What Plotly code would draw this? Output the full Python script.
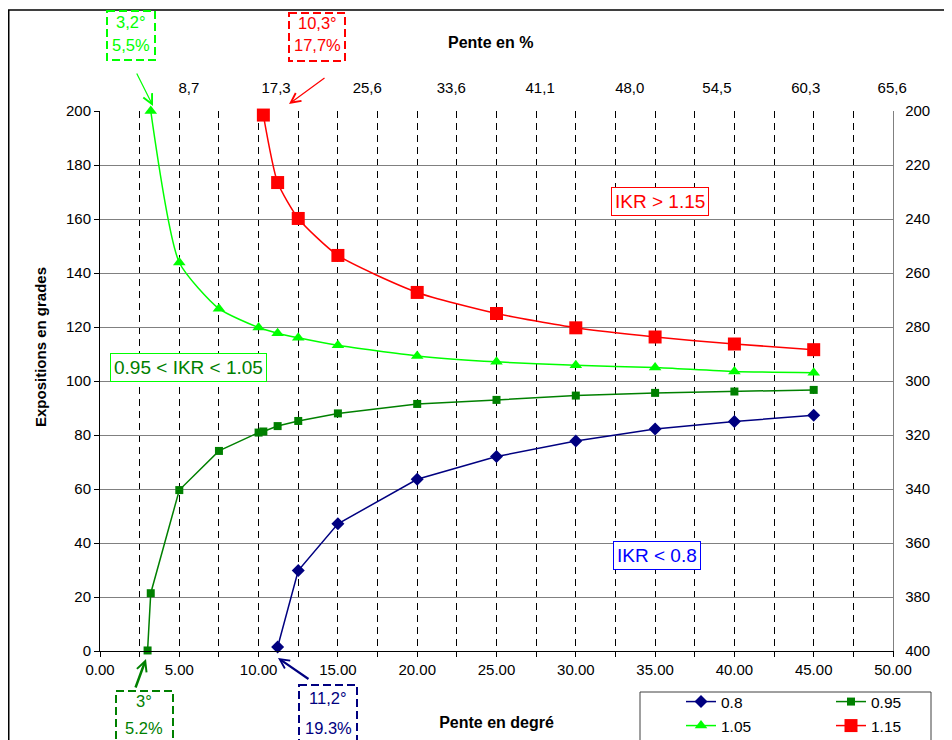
import plotly.graph_objects as go

# ---------------- data ----------------
x_08 = [11.2, 12.5, 15, 20, 25, 30, 35, 40, 45]
y_08 = [1.5, 29.8, 47.1, 63.6, 72.0, 77.8, 82.2, 85.0, 87.3]

x_095 = [3, 3.2, 5, 7.5, 10, 10.3, 11.2, 12.5, 15, 20, 25, 30, 35, 40, 45]
y_095 = [0.2, 21.4, 59.6, 74.1, 80.9, 81.3, 83.3, 85.2, 88.0, 91.5, 93.0, 94.6, 95.6, 96.1, 96.7]

x_105 = [3.2, 5, 7.5, 10, 11.2, 12.5, 15, 20, 25, 30, 35, 40, 45]
y_105 = [200, 143.9, 126.8, 119.8, 117.7, 116.0, 113.2, 109.3, 107.1, 105.8, 105.0, 103.5, 103.1]

x_115 = [10.3, 11.2, 12.5, 15, 20, 25, 30, 35, 40, 45]
y_115 = [198.5, 173.5, 160.2, 146.5, 132.8, 125.0, 119.7, 116.3, 113.7, 111.6]

series_names = ["0.8", "0.95", "1.05", "1.15"]

top_tick_labels = ["8,7", "17,3", "25,6", "33,6", "41,1", "48,0", "54,5", "60,3", "65,6"]
top_tick_pos = [5.6, 11.1, 16.85, 22.15, 27.75, 33.4, 38.9, 44.5, 49.95]

right_tick_vals = [200, 220, 240, 260, 280, 300, 320, 340, 360, 380, 400]

# ---------------- helpers (screen pixel -> paper) ----------------
OFF = 8                     # page body margin
W, H = 952, 740
PLOT_L, PLOT_R, PLOT_T, PLOT_B = 100, 893, 111, 651   # plot area on screen
L = PLOT_L - OFF
T = PLOT_T - OFF
R = W - (PLOT_R - OFF)
B = H - (PLOT_B - OFF)
PW, PH = W - L - R, H - T - B


def PX(x):
    return (x - OFF - L) / PW


def PY(y):
    return (H - B - (y - OFF)) / PH


FONT = "Liberation Sans, Arial, sans-serif"
NAVY, GREEN, LIME, RED = "#000080", "#008000", "#00FF00", "#FF0000"

fig = go.Figure()

fig.add_trace(go.Scatter(x=x_08, y=y_08, name=series_names[0], mode="lines+markers",
                         line=dict(color=NAVY, width=1.5),
                         marker=dict(symbol="diamond", size=10, color=NAVY),
                         legend="legend", cliponaxis=False))
fig.add_trace(go.Scatter(x=x_095, y=y_095, name=series_names[1], mode="lines+markers",
                         line=dict(color=GREEN, width=1.5),
                         marker=dict(symbol="square", size=8, color=GREEN),
                         legend="legend", cliponaxis=False))
fig.add_trace(go.Scatter(x=x_105, y=y_105, name=series_names[2], mode="lines+markers",
                         line=dict(color=LIME, width=1.5, shape="spline", smoothing=0.6),
                         marker=dict(symbol="triangle-up", size=11, color=LIME),
                         legend="legend2", cliponaxis=False))
fig.add_trace(go.Scatter(x=x_115, y=y_115, name=series_names[3], mode="lines+markers",
                         line=dict(color=RED, width=1.5, shape="spline", smoothing=0.6),
                         marker=dict(symbol="square", size=13, color=RED),
                         legend="legend2", cliponaxis=False))
# invisible trace to activate secondary axes
fig.add_trace(go.Scatter(x=[25], y=[300], xaxis="x2", yaxis="y2", mode="markers",
                         marker=dict(opacity=0), showlegend=False, hoverinfo="skip"))

grid_dash = "7px,5px"
fig.update_layout(
    width=W, height=H,
    margin=dict(l=L, r=R, t=T, b=B, autoexpand=False),
    plot_bgcolor="white", paper_bgcolor="white",
    font=dict(family=FONT, size=15, color="black"),
    xaxis=dict(range=[0, 50], tick0=0, dtick=5, tickformat=".2f",
               ticks="outside", ticklen=5, tickcolor="black",
               showline=True, linecolor="black", linewidth=1,
               showgrid=True, gridcolor="black", griddash=grid_dash, gridwidth=1,
               zeroline=False, automargin=False,
               minor=dict(dtick=2.5, tick0=0, ticks="outside", ticklen=5, tickcolor="black",
                          showgrid=True, gridcolor="black", griddash=grid_dash, gridwidth=1),
               title=dict(text="<b>Pente en degré</b>", standoff=39,
                          font=dict(size=16))),
    yaxis=dict(range=[0, 200], dtick=20, ticks="outside", ticklen=5, tickcolor="black",
               showline=True, linecolor="black", linewidth=1, automargin=False,
               showgrid=True, gridcolor="#808080", gridwidth=1.3, zeroline=False),
    xaxis2=dict(range=[0, 50], overlaying="x", side="top", anchor="y",
                tickvals=top_tick_pos, ticktext=top_tick_labels, automargin=False,
                ticks="", showline=False, showgrid=False, zeroline=False,
                ticklabelstandoff=14),
    yaxis2=dict(range=[400, 200], overlaying="y", side="right", anchor="x",
                tickvals=right_tick_vals, ticks="", showgrid=False, zeroline=False,
                showline=True, linecolor="#808080", linewidth=1.3, automargin=False,
                ticklabelstandoff=8),
    legend=dict(orientation="h", x=PX(681), y=PY(685), xanchor="left", yanchor="top",
                entrywidth=105, entrywidthmode="pixels", bgcolor="rgba(0,0,0,0)",
                font=dict(size=15.5), borderwidth=0),
    legend2=dict(orientation="h", x=PX(681), y=PY(709), xanchor="left", yanchor="top",
                 entrywidth=105, entrywidthmode="pixels", bgcolor="rgba(0,0,0,0)",
                 font=dict(size=15.5), borderwidth=0),
    showlegend=True,
)

shapes = []
# outer chart border (figure edge)
shapes.append(dict(type="rect", xref="paper", yref="paper",
                   x0=PX(OFF + 0.75), x1=PX(1000), y0=PY(OFF + 2), y1=PY(800),
                   line=dict(color="black", width=1.5), layer="above"))
# legend frame
shapes.append(dict(type="rect", xref="paper", yref="paper",
                   x0=PX(640), x1=PX(931), y0=PY(692), y1=PY(760),
                   line=dict(color="#404040", width=1), layer="below"))
# dashed callout boxes
box_dash = "8px,4px"
for (x0, x1, y0, y1, c) in [(107, 155, 11, 60, LIME), (289, 345, 13, 61, RED),
                            (116, 173, 691, 760, GREEN), (299, 357, 685, 760, NAVY)]:
    shapes.append(dict(type="rect", xref="paper", yref="paper",
                       x0=PX(x0), x1=PX(x1), y0=PY(y0), y1=PY(y1),
                       line=dict(color=c, width=2, dash=box_dash), layer="above"))
fig.update_layout(shapes=shapes)

ann = []


def txt(x, y, s, color, size=16.5, **kw):
    d = dict(x=PX(x), y=PY(y), xref="paper", yref="paper", text=s, showarrow=False,
             font=dict(family=FONT, size=size, color=color), xanchor="center", yanchor="middle")
    d.update(kw)
    ann.append(d)


def arrow(tail, tip, color, width, size):
    ann.append(dict(x=PX(tip[0]), y=PY(tip[1]), xref="paper", yref="paper",
                    ax=tail[0] - tip[0], ay=tail[1] - tip[1], text="", showarrow=True,
                    arrowhead=5, arrowsize=size, arrowwidth=width, arrowcolor=color,
                    standoff=0, startstandoff=0))


# titles
txt(490, 42, "<b>Pente en %</b>", "black", 16)
txt(40, 347, "<b>Expositions en grades</b>", "black", 15, textangle=-90)

# callout texts
txt(131, 22, "3,2°", LIME)
txt(131, 45, "5,5%", LIME)
txt(317, 23, "10,3°", RED)
txt(317, 45, "17,7%", RED)
txt(144, 701, "3°", GREEN)
txt(144, 728, "5.2%", GREEN)
txt(328, 698, "11,2°", NAVY)
txt(328, 728, "19.3%", NAVY)

arrow((136, 72), (153, 106), LIME, 1.2, 1.6)
arrow((326, 77), (289, 104), RED, 1.2, 1.6)
arrow((135, 689), (146, 659), GREEN, 2.5, 0.8)
arrow((310, 680), (278, 658), NAVY, 2.2, 0.85)

# boxed labels
for (x, y, s, tc, bc) in [(659.5, 201.5, "IKR > 1.15", RED, RED),
                          (188.5, 367, "0.95 < IKR < 1.05", GREEN, LIME),
                          (657, 555, "IKR < 0.8", "#0000FF", "#0000FF")]:
    ann.append(dict(x=PX(x), y=PY(y), xref="paper", yref="paper", text=s, showarrow=False,
                    font=dict(family=FONT, size=19, color=tc), bgcolor="white",
                    bordercolor=bc, borderwidth=1, borderpad=3,
                    xanchor="center", yanchor="middle"))

fig.update_layout(annotations=ann)

fig.write_html("out.html")
